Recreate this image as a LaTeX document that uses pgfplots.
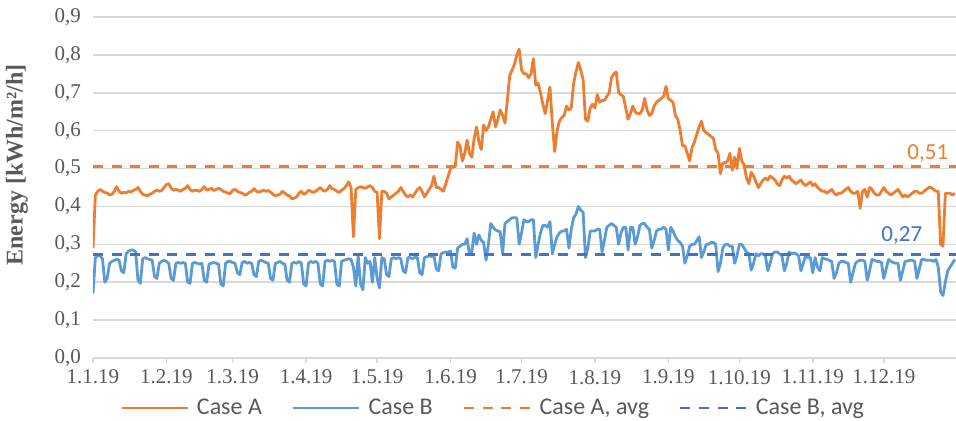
\documentclass[border=0pt]{standalone}
\usepackage{pgfplots}
\usepackage{pgfplotstable}
\pgfplotsset{compat=1.18}
\usepackage{fontspec}
\setmainfont{Liberation Serif}
\newfontfamily\calibri{Carlito}

\definecolor{caseA}{HTML}{ED7D31}
\definecolor{caseB}{HTML}{5B9BD5}
\definecolor{avgB}{HTML}{4472C4}
\definecolor{gridgray}{HTML}{D9D9D9}
\definecolor{txtgray}{HTML}{595959}

% daily values 2019, one line per week (day 0 = 1.1.19)
\pgfplotstableread[row sep=\\]{
A B\\
0.29 0.17\\ 0.43 0.265\\ 0.44 0.27\\ 0.445 0.27\\ 0.44 0.262\\ 0.437 0.20\\ 0.435 0.21\\
0.43 0.25\\ 0.432 0.255\\ 0.44 0.258\\ 0.452 0.26\\ 0.44 0.258\\ 0.435 0.23\\ 0.437 0.225\\
0.436 0.275\\ 0.44 0.282\\ 0.438 0.285\\ 0.442 0.285\\ 0.445 0.28\\ 0.45 0.205\\ 0.44 0.197\\
0.432 0.262\\ 0.43 0.265\\ 0.428 0.262\\ 0.432 0.26\\ 0.435 0.258\\ 0.44 0.215\\ 0.443 0.21\\
0.44 0.25\\ 0.442 0.255\\ 0.45 0.258\\ 0.458 0.255\\ 0.46 0.25\\ 0.448 0.21\\ 0.443 0.205\\
0.445 0.25\\ 0.443 0.252\\ 0.44 0.25\\ 0.445 0.252\\ 0.448 0.25\\ 0.455 0.2\\ 0.445 0.197\\
0.44 0.25\\ 0.443 0.252\\ 0.442 0.25\\ 0.44 0.248\\ 0.445 0.25\\ 0.452 0.205\\ 0.443 0.2\\
0.445 0.248\\ 0.448 0.25\\ 0.442 0.252\\ 0.445 0.25\\ 0.448 0.248\\ 0.445 0.195\\ 0.44 0.19\\
0.438 0.25\\ 0.435 0.255\\ 0.434 0.255\\ 0.443 0.252\\ 0.445 0.25\\ 0.44 0.225\\ 0.437 0.22\\
0.435 0.252\\ 0.43 0.255\\ 0.432 0.25\\ 0.437 0.252\\ 0.44 0.25\\ 0.447 0.22\\ 0.44 0.215\\
0.438 0.255\\ 0.44 0.258\\ 0.443 0.255\\ 0.44 0.252\\ 0.442 0.25\\ 0.438 0.21\\ 0.432 0.205\\
0.428 0.25\\ 0.43 0.252\\ 0.432 0.255\\ 0.44 0.25\\ 0.435 0.248\\ 0.43 0.205\\ 0.428 0.2\\
0.42 0.25\\ 0.422 0.252\\ 0.425 0.25\\ 0.435 0.255\\ 0.44 0.25\\ 0.432 0.195\\ 0.435 0.19\\
0.443 0.25\\ 0.44 0.255\\ 0.437 0.252\\ 0.44 0.255\\ 0.445 0.25\\ 0.45 0.195\\ 0.443 0.19\\
0.44 0.255\\ 0.445 0.258\\ 0.455 0.255\\ 0.447 0.258\\ 0.445 0.255\\ 0.44 0.195\\ 0.437 0.19\\
0.443 0.255\\ 0.447 0.258\\ 0.455 0.26\\ 0.465 0.262\\ 0.45 0.26\\ 0.32 0.24\\ 0.445 0.19\\
0.45 0.27\\ 0.452 0.195\\ 0.45 0.18\\ 0.448 0.265\\ 0.452 0.25\\ 0.455 0.255\\ 0.45 0.2\\
0.44 0.265\\ 0.437 0.21\\ 0.315 0.185\\ 0.44 0.265\\ 0.44 0.262\\ 0.435 0.22\\ 0.42 0.215\\
0.425 0.262\\ 0.43 0.265\\ 0.435 0.262\\ 0.44 0.265\\ 0.45 0.262\\ 0.44 0.23\\ 0.43 0.225\\
0.425 0.265\\ 0.43 0.265\\ 0.425 0.262\\ 0.435 0.266\\ 0.445 0.265\\ 0.45 0.225\\ 0.44 0.22\\
0.425 0.265\\ 0.435 0.267\\ 0.445 0.27\\ 0.455 0.268\\ 0.48 0.27\\ 0.45 0.235\\ 0.45 0.23\\
0.445 0.275\\ 0.44 0.278\\ 0.46 0.28\\ 0.48 0.28\\ 0.50 0.282\\ 0.505 0.24\\ 0.505 0.237\\
0.57 0.29\\ 0.56 0.295\\ 0.52 0.3\\ 0.54 0.3\\ 0.575 0.315\\ 0.54 0.275\\ 0.53 0.28\\
0.58 0.33\\ 0.61 0.3\\ 0.57 0.325\\ 0.55 0.31\\ 0.615 0.305\\ 0.60 0.258\\ 0.61 0.3\\
0.63 0.355\\ 0.65 0.345\\ 0.61 0.338\\ 0.63 0.335\\ 0.655 0.333\\ 0.64 0.275\\ 0.62 0.355\\
0.68 0.36\\ 0.745 0.365\\ 0.76 0.37\\ 0.775 0.37\\ 0.80 0.37\\ 0.815 0.3\\ 0.76 0.33\\
0.75 0.365\\ 0.75 0.36\\ 0.74 0.36\\ 0.75 0.365\\ 0.79 0.365\\ 0.72 0.265\\ 0.725 0.3\\
0.70 0.33\\ 0.67 0.35\\ 0.645 0.35\\ 0.68 0.345\\ 0.715 0.36\\ 0.62 0.275\\ 0.545 0.3\\
0.60 0.32\\ 0.625 0.33\\ 0.635 0.335\\ 0.64 0.335\\ 0.665 0.34\\ 0.655 0.29\\ 0.66 0.34\\
0.725 0.37\\ 0.755 0.38\\ 0.78 0.4\\ 0.76 0.39\\ 0.735 0.385\\ 0.63 0.265\\ 0.625 0.29\\
0.66 0.335\\ 0.67 0.335\\ 0.66 0.335\\ 0.695 0.34\\ 0.675 0.34\\ 0.68 0.28\\ 0.68 0.31\\
0.69 0.345\\ 0.70 0.35\\ 0.74 0.355\\ 0.75 0.35\\ 0.755 0.345\\ 0.70 0.3\\ 0.695 0.33\\
0.69 0.345\\ 0.66 0.345\\ 0.63 0.285\\ 0.645 0.345\\ 0.665 0.345\\ 0.65 0.3\\ 0.645 0.32\\
0.645 0.35\\ 0.655 0.355\\ 0.685 0.355\\ 0.655 0.345\\ 0.64 0.34\\ 0.645 0.29\\ 0.665 0.31\\
0.675 0.335\\ 0.68 0.34\\ 0.685 0.34\\ 0.69 0.345\\ 0.717 0.34\\ 0.685 0.285\\ 0.68 0.345\\
0.675 0.335\\ 0.64 0.32\\ 0.63 0.31\\ 0.60 0.305\\ 0.56 0.295\\ 0.56 0.25\\ 0.54 0.27\\
0.52 0.295\\ 0.555 0.3\\ 0.57 0.3\\ 0.59 0.31\\ 0.61 0.32\\ 0.625 0.265\\ 0.60 0.28\\
0.595 0.3\\ 0.59 0.3\\ 0.585 0.305\\ 0.58 0.305\\ 0.55 0.3\\ 0.54 0.228\\ 0.487 0.25\\
0.515 0.29\\ 0.515 0.3\\ 0.52 0.3\\ 0.54 0.295\\ 0.496 0.295\\ 0.53 0.25\\ 0.50 0.27\\
0.553 0.3\\ 0.52 0.3\\ 0.51 0.29\\ 0.475 0.28\\ 0.46 0.275\\ 0.49 0.232\\ 0.48 0.25\\
0.465 0.275\\ 0.45 0.27\\ 0.46 0.275\\ 0.47 0.275\\ 0.475 0.27\\ 0.47 0.23\\ 0.48 0.25\\
0.475 0.275\\ 0.47 0.28\\ 0.46 0.28\\ 0.455 0.275\\ 0.47 0.27\\ 0.48 0.23\\ 0.475 0.25\\
0.48 0.28\\ 0.47 0.275\\ 0.465 0.277\\ 0.46 0.275\\ 0.465 0.27\\ 0.47 0.23\\ 0.46 0.25\\
0.455 0.27\\ 0.46 0.265\\ 0.465 0.265\\ 0.455 0.225\\ 0.46 0.265\\ 0.45 0.24\\ 0.445 0.23\\
0.44 0.265\\ 0.44 0.262\\ 0.435 0.26\\ 0.44 0.258\\ 0.445 0.255\\ 0.435 0.21\\ 0.43 0.225\\
0.435 0.25\\ 0.435 0.255\\ 0.44 0.255\\ 0.445 0.252\\ 0.45 0.25\\ 0.44 0.2\\ 0.435 0.225\\
0.435 0.25\\ 0.44 0.255\\ 0.395 0.258\\ 0.44 0.258\\ 0.445 0.255\\ 0.425 0.205\\ 0.45 0.23\\
0.445 0.26\\ 0.435 0.258\\ 0.43 0.255\\ 0.43 0.255\\ 0.44 0.252\\ 0.45 0.21\\ 0.44 0.235\\
0.435 0.26\\ 0.43 0.255\\ 0.435 0.252\\ 0.44 0.25\\ 0.445 0.25\\ 0.435 0.205\\ 0.425 0.23\\
0.43 0.255\\ 0.425 0.256\\ 0.43 0.258\\ 0.435 0.258\\ 0.44 0.255\\ 0.44 0.21\\ 0.435 0.235\\
0.435 0.26\\ 0.44 0.26\\ 0.445 0.258\\ 0.45 0.258\\ 0.45 0.258\\ 0.445 0.255\\ 0.44 0.26\\
0.44 0.24\\ 0.30 0.175\\ 0.295 0.165\\ 0.435 0.2\\ 0.435 0.23\\ 0.435 0.24\\ 0.43 0.25\\
0.435 0.26\\
}\energy

\begin{document}
\begin{tikzpicture}
\begin{axis}[
    scale only axis,
    width=431.5pt, height=170.5pt,
    xmin=0, xmax=364.5, ymin=0, ymax=0.9,
    axis x line*=bottom, axis y line*=left,
    x axis line style={gridgray, line width=0.75pt},
    y axis line style={draw=none},
    xtick={0,31,59,90,120,151,181,212,243,273,304,334},
    xticklabels={1.1.19,1.2.19,1.3.19,1.4.19,1.5.19,1.6.19,1.7.19,1.8.19,1.9.19,1.10.19,1.11.19,1.12.19},
    ytick={0,0.1,0.2,0.3,0.4,0.5,0.6,0.7,0.8,0.9},
    ymajorgrids,
    grid style={gridgray, line width=0.75pt},
    tick align=outside,
    major tick length=2.5pt,
    xtick style={gridgray, line width=0.75pt},
    ytick style={draw=none},
    tick label style={font=\fontsize{10.5}{12}\selectfont, text=txtgray},
    yticklabel style={/pgf/number format/fixed, /pgf/number format/fixed zerofill,
        /pgf/number format/precision=1, /pgf/number format/use comma,
        /pgf/number format/assume math mode=true},
    ylabel={Energy [kWh/m²/h]},
    ylabel style={at={(axis description cs:-0.088,0.566)}, anchor=center,
        font=\bfseries\fontsize{12}{14}\selectfont, text=txtgray},
    legend style={draw=none, fill=none, at={(0.4647,0)}, anchor=center, yshift=-25pt,
        legend columns=4, font=\calibri\fontsize{12}{14}\selectfont, text=txtgray,
        /tikz/every even column/.append style={column sep=13pt}},
    legend image code/.code={\draw[#1] (0pt,0pt) -- (33pt,0pt); \path (35pt,0pt);},
    every axis plot/.append style={line width=1.4pt, line join=round},
]
\addplot[caseA] table[x expr=\coordindex, y=A] {\energy};
\addlegendentry{Case A}
\addplot[caseB] table[x expr=\coordindex, y=B] {\energy};
\addlegendentry{Case B}
\addplot[caseA, dash pattern=on 5pt off 4.3pt] coordinates {(0,0.506) (364.5,0.506)};
\addlegendentry{Case A, avg}
\addplot[avgB, dash pattern=on 5pt off 4.3pt] coordinates {(0,0.273) (364.5,0.273)};
\addlegendentry{Case B, avg}
\node[text=caseA, font=\calibri\fontsize{11.5}{13}\selectfont] at (axis cs:352.6,0.541) {0,51};
\node[text=avgB, font=\calibri\fontsize{11.5}{13}\selectfont] at (axis cs:341.6,0.3245) {0,27};
\end{axis}
\pgfresetboundingbox
\path (-46.5pt,-31pt) rectangle (431.5pt,179pt);
\end{tikzpicture}
\end{document}
